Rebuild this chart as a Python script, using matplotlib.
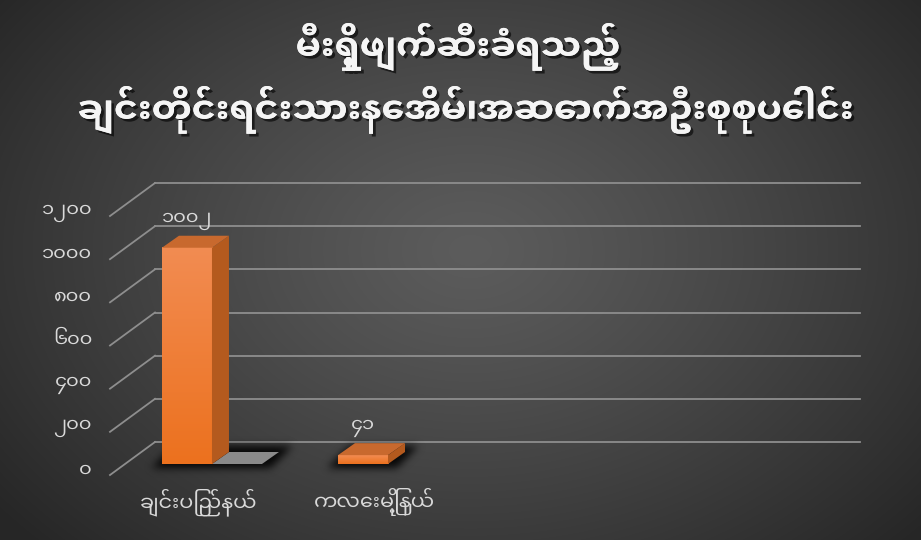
import numpy as np
import matplotlib
matplotlib.use("Agg")
import matplotlib.pyplot as plt
from matplotlib import font_manager as fm
from matplotlib.ft2font import FT2Font
from matplotlib.patches import Polygon
from matplotlib.lines import Line2D
from matplotlib.path import Path
from matplotlib.transforms import IdentityTransform
from matplotlib import patheffects as pe

# ---------------- data ----------------
title_lines = ["မီးရှို့ဖျက်ဆီးခံရသည့်",
               "ချင်းတိုင်းရင်းသားနေအိမ်၊အဆောက်အဦးစုစုပေါင်း"]
categories = ["ချင်းပြည်နယ်", "ကလေးမြို့နယ်"]
values = [1002, 41]
value_labels = ["၁၀၀၂", "၄၁"]
yticks = [0, 200, 400, 600, 800, 1000, 1200]
ytick_labels = ["၀", "၂၀၀", "၄၀၀", "၆၀၀", "၈၀၀", "၁၀၀၀", "၁၂၀၀"]

# ---------------- font ----------------
def myanmar_family():
    names = set()
    for f in fm.fontManager.ttflist:
        try:
            cm = FT2Font(f.fname).get_charmap()
        except Exception:
            continue
        if 0x1000 in cm and 0x1031 in cm:
            names.add(f.name)
    for pref in ["Noto Sans Myanmar UI", "Noto Sans Myanmar",
                 "Myanmar Sans Pro", "Myanmar Khyay"]:
        if pref in names:
            return pref
    return sorted(names)[0] if names else None

mmf = myanmar_family()
families = ([mmf] if mmf else []) + ["DejaVu Sans"]
plt.rcParams["font.family"] = families

# ---------------- figure ----------------
W, H = 921, 540
fig = plt.figure(figsize=(W / 100, H / 100), dpi=100)

# radial dark background
yy, xx = np.mgrid[0:H, 0:W]
r = np.sqrt(((xx - 470) / 600.0) ** 2 + ((yy - 250) / 430.0) ** 2)
t = np.clip(r, 0, 1)[..., None] ** 1.2
c0 = np.array([0x5c, 0x5c, 0x5c]) / 255.0
c1 = np.array([0x26, 0x26, 0x26]) / 255.0
bg = c0 * (1 - t) + c1 * t
fig.figimage(bg, 0, 0, zorder=0, origin="upper")

# axes = plane of the bar fronts
ax = fig.add_axes([125 / W, (H - 464) / H, 705 / W, 259 / H])
x0, x1 = -0.352, 3.653
ax.set_xlim(x0, x1)
ax.set_ylim(0, 1200)
ax.axis("off")
ax.patch.set_alpha(0)
ax.set_zorder(5)

ID = IdentityTransform()

def P(x, y, dx=0.0, dy=0.0):
    px, py = ax.transData.transform((x, y))
    return (px + dx, py + dy)

BACK = (30, 22)
FRONT = (-15, -11)
DEPTH = (17, 12)

# grid lines (back wall + left floor diagonals)
gcol = "#8e8e8e"
for v in yticks:
    a = P(x0, v, *BACK)
    b = P(x1, v, *BACK)
    fig.add_artist(Line2D([a[0], b[0]], [a[1], b[1]], color=gcol, lw=1.3,
                          transform=ID, zorder=2))
    c = P(x0, v, *FRONT)
    fig.add_artist(Line2D([c[0], a[0]], [c[1], a[1]], color=gcol, lw=1.3,
                          transform=ID, zorder=2))

# tick labels
for v, lab in zip(yticks, ytick_labels):
    px, py = P(x0, v, FRONT[0] - 18, FRONT[1] + 4)
    fig.text(px / W, py / H, lab, ha="right", va="center", fontsize=14,
             color="#d9d9d9", zorder=6)

bw = 50 / 176.0

# soft shadows under bars
shadow_len = [50, 0]
mask = np.zeros((H, W))
gx = xx + 0.5
gy = H - yy - 0.5
pts = np.column_stack([gx.ravel(), gy.ravel()])
for i, v in enumerate(values):
    L = shadow_len[i]
    A = P(i - bw / 2, 0, -10, -4)
    B = P(i + bw / 2, 0, L + 8, -4)
    C = P(i + bw / 2, 0, L + DEPTH[0] + 14, DEPTH[1] + 6)
    D = P(i - bw / 2, 0, DEPTH[0] - 6, DEPTH[1] + 6)
    m = Path([A, B, C, D, A]).contains_points(pts).reshape(H, W)
    mask = np.maximum(mask, m.astype(float))

def blur(a, s):
    n = int(3 * s)
    k = np.exp(-0.5 * (np.arange(-n, n + 1) / s) ** 2)
    k /= k.sum()
    a = np.apply_along_axis(lambda c: np.convolve(c, k, mode="same"), 0, a)
    a = np.apply_along_axis(lambda c: np.convolve(c, k, mode="same"), 1, a)
    return a

mask = blur(mask, 4.0)
sh = np.zeros((H, W, 4))
sh[..., 3] = np.clip(mask * 0.9, 0, 1)
fig.figimage(sh, 0, 0, zorder=3, origin="upper")

# gray floor shadow of the first bar
for i, v in enumerate(values):
    L = shadow_len[i]
    if L <= 0:
        continue
    a = P(i + bw / 2, 0)
    b = P(i + bw / 2, 0, L)
    c = P(i + bw / 2, 0, L + DEPTH[0], DEPTH[1])
    d = P(i + bw / 2, 0, DEPTH[0], DEPTH[1])
    ax.add_patch(Polygon([a, b, c, d], closed=True, transform=ID,
                         facecolor="#8a8a8a", edgecolor="none", zorder=1,
                         clip_on=False))

# bars
grad = np.linspace(0, 1, 256)[:, None]
top_c = np.array([242, 140, 82]) / 255.0
bot_c = np.array([236, 113, 30]) / 255.0
for i, v in enumerate(values):
    img = top_c * (1 - grad[..., None]) + bot_c * grad[..., None]
    ax.imshow(img, extent=[i - bw / 2, i + bw / 2, 0, v], aspect="auto",
              zorder=4, interpolation="bilinear")
    s = [P(i + bw / 2, 0), P(i + bw / 2, 0, *DEPTH),
         P(i + bw / 2, v, *DEPTH), P(i + bw / 2, v)]
    ax.add_patch(Polygon(s, closed=True, transform=ID, facecolor="#b45a1e",
                         edgecolor="none", zorder=4, clip_on=False))
    tp = [P(i - bw / 2, v), P(i + bw / 2, v), P(i + bw / 2, v, *DEPTH),
          P(i - bw / 2, v, *DEPTH)]
    ax.add_patch(Polygon(tp, closed=True, transform=ID, facecolor="#c8692e",
                         edgecolor="none", zorder=4, clip_on=False))
ax.set_xlim(x0, x1)
ax.set_ylim(0, 1200)

# value labels
for i, (v, lab) in enumerate(zip(values, value_labels)):
    px, py = P(i, v, 0, 18)
    fig.text(px / W, py / H, lab, ha="center", va="bottom", fontsize=14,
             color="#d9d9d9", zorder=6)

# category labels
for i, lab in enumerate(categories):
    px, py = P(i, 0, 12, -38)
    fig.text(px / W, py / H, lab, ha="center", va="center", fontsize=15,
             color="#d9d9d9", zorder=6)

# title
shadow = [pe.withSimplePatchShadow(offset=(2, -2), shadow_rgbFace="black",
                                   alpha=0.6), pe.Normal()]
fig.text(458 / W, 1 - 47 / H, title_lines[0], ha="center", va="center",
         fontsize=26, fontweight="bold", color="#f5f5f5", zorder=6,
         path_effects=shadow)
fig.text(466 / W, 1 - 110 / H, title_lines[1], ha="center", va="center",
         fontsize=26, fontweight="bold", color="#f5f5f5", zorder=6,
         path_effects=shadow)

fig.savefig("out.png", dpi=100)
